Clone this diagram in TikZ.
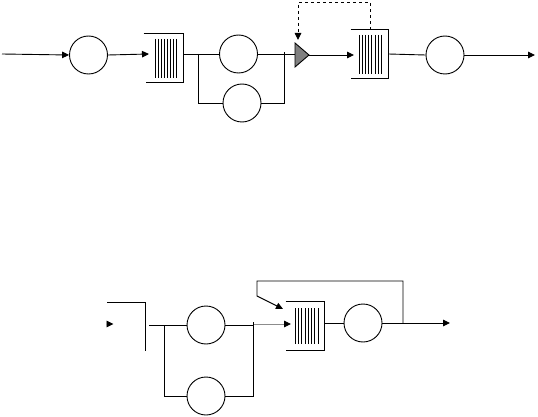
\documentclass[tikz,border=0pt]{standalone}
\usetikzlibrary{arrows.meta,calc}
\begin{document}
\begin{tikzpicture}[x=1pt,y=-1pt,line width=0.9pt,
  srv/.style={circle,draw,minimum size=38pt,inner sep=0pt},
  qbox/.style={inner sep=0pt,minimum width=#1,minimum height=48pt},
  arr/.style={-{Triangle[length=7pt,width=6.5pt]}},
  bar/.style={line width=0.8pt}]
\useasboundingbox (0,0) rectangle (538,417);
% ---------- top ----------
\node[srv] (c1) at (88.5,55) {};
\node[srv] (c2) at (238.5,54) {};
\node[srv] (c3) at (242,103) {};
\node[srv] (c4) at (445,55) {};
\node[qbox=39pt] (q1) at (163.5,58) {};
\node[qbox=37pt] (q2) at (369.5,54) {};
\draw (q1.north west) -- (q1.north east) -- (q1.south east) -- ([xshift=2pt]q1.south west);
\foreach \i in {0,...,7} \draw[bar] (155+\i*3,39) -- (155+\i*3,78);
\draw (q2.north west) -- (q2.north east) -- (q2.south east) -- (q2.south west);
\foreach \i in {0,...,7} \draw[bar] (359+\i*3.2,35) -- (359+\i*3.2,74);
\coordinate (tl) at (295,43);
\coordinate (tb) at (295,67);
\coordinate (ta) at (309,55);
\draw[fill=black!50] (tl) -- (ta) -- (tb) -- cycle;
\coordinate (in) at (2,54);
\draw[arr] (in) -- (c1.west);
\draw[arr] (c1.east) -- (149,54);
\draw (q1.east |- c2.west) -- (c2.west);
\coordinate (b1) at (198,54);
\draw (b1) -- (198,103) -- (c3.west);
\draw (c2.east) -- (295,54);
\draw (c3.east) -- (284,103) -- (284,52);
\draw[arr] (ta) -- (354,55);
\draw[dashed,arr] (370,30) -- (370,2.5) -- (298,2.5) -- (298,40);
\draw (q2.east) -- (c4.west);
\draw[arr] (c4.east) -- (535,55);
% ---------- bottom ----------
\node[srv] (c5) at (206,325) {};
\node[srv] (c6) at (206,396) {};
\node[srv] (c7) at (363,323) {};
\node[qbox=38pt] (q3) at (305,326) {};
\draw (q3.north west) -- (q3.north east) -- (q3.south east) -- (q3.south west);
\foreach \i in {0,...,7} \draw[bar] (295+\i*3.3,308) -- (295+\i*3.3,344);
\draw[-{Triangle[length=7pt,width=6.5pt]}] (106.5,324) -- (113.5,324);
\draw (107,302) -- (145,302) -- (145,351);
\draw (149,325) -- (c5.west);
\draw (164,325) -- (164,396) -- (c6.west);
\draw (c5.east) -- (253,325);
\draw[black!45,-{Triangle[length=7pt,width=6.5pt,fill=black,color=black]}] (253,324) -- (291,324);
\draw (253,322) -- (253,396) -- (c6.east);
\draw (q3.east |- c7.west) -- (c7.west);
\draw[arr] (c7.east) -- (450,323);
\draw[arr] (403,323) -- (403,281) -- (257,281) -- (257,296) -- (283,309);
\end{tikzpicture}
\end{document}
